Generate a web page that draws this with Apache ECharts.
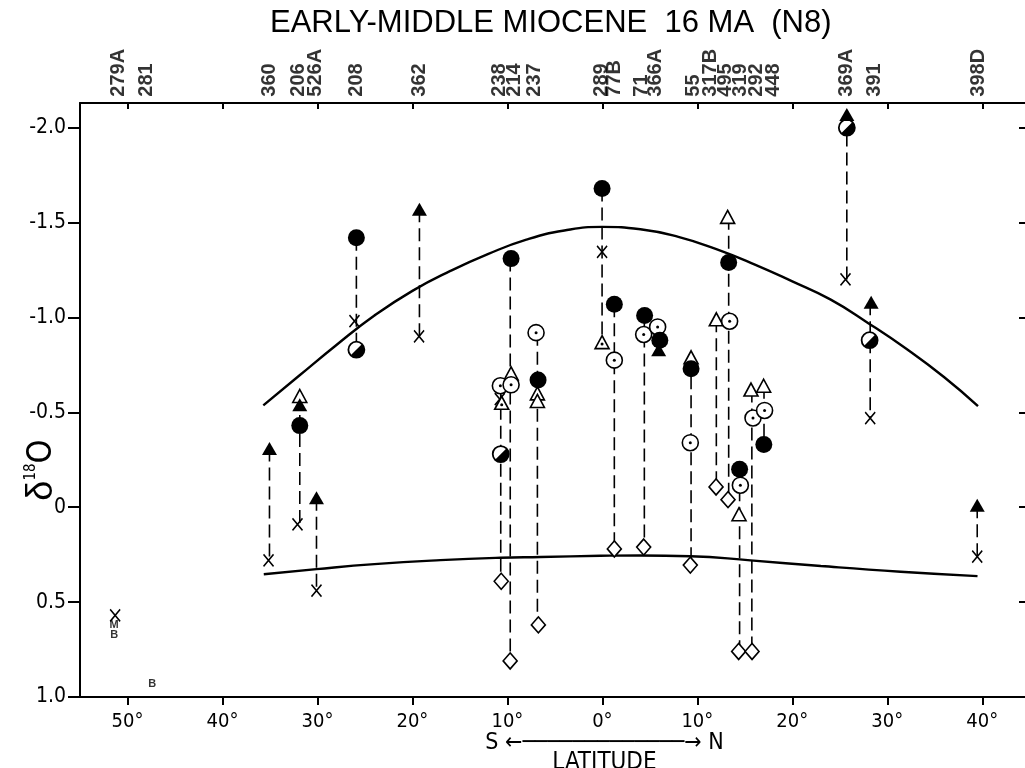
<!DOCTYPE html>
<html><head><meta charset="utf-8">
<script src="https://cdn.jsdelivr.net/npm/echarts@6/dist/echarts.min.js"></script>
<style>html,body{margin:0;padding:0;background:#fff}#c{width:1025px;height:768px}</style>
</head><body><div id="c"></div>
<script>
// ---- data ----
const titleText = 'EARLY-MIDDLE MIOCENE  16 MA  (N8)';
const siteNames = ['279A','281','360','206','526A','208','362','238','214','237','289','77B','71','366A','55','317B','495','319','292','448','369A','391','398D'];
const siteLabelLat = [-50.95,-48,-35.05,-32,-30.2,-25.9,-19.26,-10.85,-9.3,-7.12,-0.14,1.29,4.17,5.61,9.56,11.36,12.98,14.59,16.21,18.0,25.73,28.6,39.56];
const xTicks = [-50,-40,-30,-20,-10,0,10,20,30,40];
const yTicks = [-2.0,-1.5,-1.0,-0.5,0,0.5,1.0];
const yTickLabels = ['-2.0','-1.5','-1.0','-0.5','0','0.5','1.0'];

// upper / lower model curves [lat, d18O]
const upperCurve = [[-35.7,-0.537],[-32,-0.69],[-28,-0.855],[-24,-1.01],[-20,-1.14],[-16,-1.245],[-12,-1.335],[-8,-1.41],[-4,-1.458],[0,-1.477],[4,-1.465],[8,-1.425],[12,-1.36],[16,-1.28],[20,-1.19],[24,-1.095],[28,-0.97],[32,-0.835],[36,-0.685],[39.55,-0.533]];
const lowerCurve = [[-35.65,0.353],[-30.1,0.326],[-24,0.30],[-17.05,0.279],[-10.74,0.266],[-6.5,0.262],[-0.2,0.256],[4,0.254],[9.26,0.258],[15.6,0.28],[23,0.31],[31.4,0.34],[39.5,0.363]];

// dashed site links [lat, top, bottom]
const siteLinks = [[-35.05,-0.31,0.28],[-31.86,-0.586,0.09],[-30.1,-0.05,0.44],[-25.9,-1.42,-0.83],[-19.26,-1.57,-0.90],[-10.7,-0.63,0.39],[-9.7,-1.31,0.81],[-6.84,-0.92,0.62],[-0.03,-1.68,-0.87],[1.26,-1.07,0.22],[4.42,-1.01,0.21],[9.34,-0.79,0.305],[12.0,-0.99,-0.107],[13.3,-1.53,-0.04],[14.45,-0.20,0.76],[15.74,-0.62,0.76],[17.02,-0.64,-0.33],[25.74,-2.07,-1.2],[28.2,-1.08,-0.47],[39.47,-0.01,0.26]];

const filledCircle = [[-31.86,-0.43],[-25.9,-1.42],[-9.61,-1.31],[-6.77,-0.67],[-0.03,-1.68],[1.26,-1.07],[4.45,-1.01],[6.05,-0.88],[9.34,-0.73],[13.3,-1.29],[14.45,-0.20],[17.0,-0.33]];
const halfCircle = [[-25.9,-0.83],[-10.7,-0.28],[25.74,-2.0],[28.14,-0.88]];
const dotCircle = [[-10.74,-0.64],[-9.61,-0.645],[-6.98,-0.92],[1.26,-0.775],[4.35,-0.91],[5.82,-0.95],[9.26,-0.34],[13.4,-0.98],[14.53,-0.116],[15.86,-0.47],[17.08,-0.51]];
const filledTriangle = [[-35.05,-0.31],[-31.86,-0.54],[-30.1,-0.05],[-19.26,-1.57],[5.93,-0.83],[25.74,-2.07],[28.3,-1.08],[39.47,-0.01]];
const openTriangle = [[-31.86,-0.586],[-9.61,-0.705],[-6.84,-0.60],[-6.84,-0.56],[9.34,-0.79],[12.0,-0.99],[13.19,-1.53],[14.39,0.037],[15.65,-0.62],[16.98,-0.64]];
const dotTriangle = [[-10.6,-0.55],[-0.03,-0.87]];
const openDiamond = [[-10.65,0.39],[-9.71,0.81],[-6.74,0.62],[1.26,0.22],[4.35,0.21],[9.26,0.305],[11.97,-0.107],[13.23,-0.04],[14.35,0.76],[15.76,0.76]];
const crossMark = [[-35.15,0.28],[-32.1,0.09],[-30.1,0.44],[-26.1,-0.98],[-19.3,-0.90],[-10.8,-0.57],[-0.03,-1.345],[25.6,-1.2],[28.2,-0.47],[39.47,0.26],[-51.3,0.57]];
const letterMark = [[-51.4,0.62,'M'],[-51.4,0.675,'B'],[-47.4,0.93,'B']];

// ---- chart ----
const NARROW = '"Liberation Sans Narrow","DejaVu Sans Condensed","Liberation Sans",Arial,sans-serif';
const SANS = '"Liberation Sans",Arial,sans-serif';
const BLACK = '#000';
const LABEL_ANCHOR_Y = -2.163; // just above the top frame

const chart = echarts.init(document.getElementById('c'), null, {renderer:'canvas'});
const series = [];

siteLinks.forEach(l => series.push({
  type:'line', data:[[l[0],l[1]],[l[0],l[2]]], showSymbol:false, symbol:'none', silent:true, z:1,
  lineStyle:{color:BLACK, width:1.6, type:[13,6]}
}));
[upperCurve, lowerCurve].forEach(c => series.push({
  type:'line', data:c, showSymbol:false, symbol:'none', smooth:0.5, z:2, silent:true,
  lineStyle:{color:BLACK, width:2.4}
}));
function scat(data, symbol, size, style, z){
  return {type:'scatter', data, symbol, symbolSize:size, itemStyle:Object.assign({opacity:1}, style), z:z||5, silent:true, clip:false};
}
const openStyle = {color:'#fff', borderColor:BLACK, borderWidth:1.6};
series.push(scat(openDiamond,'diamond',[14,16],openStyle,4));
series.push(scat(crossMark,'path://M0 0L10 11M10 0L0 11',[10,12],{color:'transparent',borderColor:BLACK,borderWidth:1.6},4));
series.push(scat(openTriangle.concat(dotTriangle),'triangle',[14,13],openStyle,5));
series.push(scat(dotCircle,'circle',16,openStyle,5));
series.push(scat(halfCircle,'circle',16,{color:'#fff',borderColor:BLACK,borderWidth:1.8},6));
series.push(scat(halfCircle,'path://M0 0L0.01 0Z M20 20L19.99 20Z M17.07 2.93A10 10 0 0 1 2.93 17.07Z',16,{color:BLACK},7));
series.push(scat(filledCircle,'circle',17,{color:BLACK},6));
series.push(scat(filledTriangle,'triangle',[15,13],{color:BLACK},7));
series.push(scat(dotCircle.concat(dotTriangle.map(p=>[p[0],p[1]+0.01])),'circle',3,{color:BLACK},8));
series.push({type:'scatter', data:letterMark, symbolSize:1, itemStyle:{color:'transparent'}, silent:true, clip:false, z:8,
  label:{show:true, position:'inside', formatter:p=>p.value[2], color:BLACK, fontSize:11, fontWeight:'bold', fontFamily:SANS}});
// site labels above the frame
series.push({type:'scatter', data:siteLabelLat.map((lat,i)=>[lat, LABEL_ANCHOR_Y, siteNames[i]]), symbolSize:1,
  itemStyle:{color:'transparent'}, silent:true, clip:false, z:8,
  label:{show:true, position:'inside', rotate:90, align:'left', verticalAlign:'middle', formatter:p=>p.value[2],
    color:BLACK, fontSize:20, fontWeight:'bold', fontFamily:SANS}});

const option = {
  backgroundColor:'#fff',
  animation:false,
  title:{text:titleText, left:270, top:8, padding:0,
    textStyle:{fontSize:31, fontWeight:'normal', color:BLACK, fontFamily:SANS}},
  grid:{left:80, top:103, right:0, bottom:71, outerBoundsMode:'none', containLabel:false},
  xAxis:[{
    type:'value', position:'bottom', min:-55, max:44.5,
    axisLine:{show:true, onZero:false, lineStyle:{color:BLACK, width:2}},
    axisTick:{show:true, customValues:xTicks, length:8, lineStyle:{color:BLACK, width:2}},
    axisLabel:{customValues:xTicks, formatter:v=>Math.abs(v)+'°', color:BLACK, fontSize:20, margin:15, fontFamily:NARROW},
    splitLine:{show:false},
    name:'{t|S ←─────────────→ N}\n{l|LATITUDE}', nameLocation:'middle', nameGap:36, nameMoveOverlap:false,
    nameTextStyle:{padding:[0,0,0,104], align:'center', rich:{
      t:{fontSize:23, color:BLACK, fontFamily:NARROW, lineHeight:20},
      l:{fontSize:24, color:BLACK, fontFamily:NARROW, lineHeight:20}}}
  },{
    type:'value', position:'top', min:-55, max:44.5,
    axisLine:{show:true, onZero:false, lineStyle:{color:BLACK, width:2}},
    axisTick:{show:true, inside:true, customValues:xTicks, length:6, lineStyle:{color:BLACK, width:2}},
    axisLabel:{show:false}, splitLine:{show:false}
  }],
  yAxis:[{
    type:'value', inverse:true, min:-2.13, max:1.0, position:'left',
    axisLine:{show:true, onZero:false, lineStyle:{color:BLACK, width:2}},
    axisTick:{show:true, customValues:yTicks, length:12, lineStyle:{color:BLACK, width:2}},
    axisLabel:{customValues:yTicks, formatter:v=>yTickLabels[yTicks.findIndex(t=>Math.abs(t-v)<1e-6)], color:BLACK, fontSize:21, margin:14, fontFamily:NARROW},
    splitLine:{show:false},
    name:'{d|δ}{s|18}{o|O}', nameLocation:'middle', nameRotate:90, nameGap:20, nameMoveOverlap:false,
    nameTextStyle:{padding:[0,140,0,0], rich:{
      d:{fontSize:36, color:BLACK, fontFamily:SANS},
      s:{fontSize:15, color:BLACK, verticalAlign:'top', fontFamily:NARROW},
      o:{fontSize:34, color:BLACK, fontFamily:NARROW}}}
  },{
    type:'value', inverse:true, min:-2.13, max:1.0, position:'right',
    axisLine:{show:false, onZero:false},
    axisTick:{show:true, inside:true, customValues:yTicks, length:6, lineStyle:{color:BLACK, width:2}},
    axisLabel:{show:false}, splitLine:{show:false}
  }],
  series
};
chart.setOption(option);
</script></body></html>
